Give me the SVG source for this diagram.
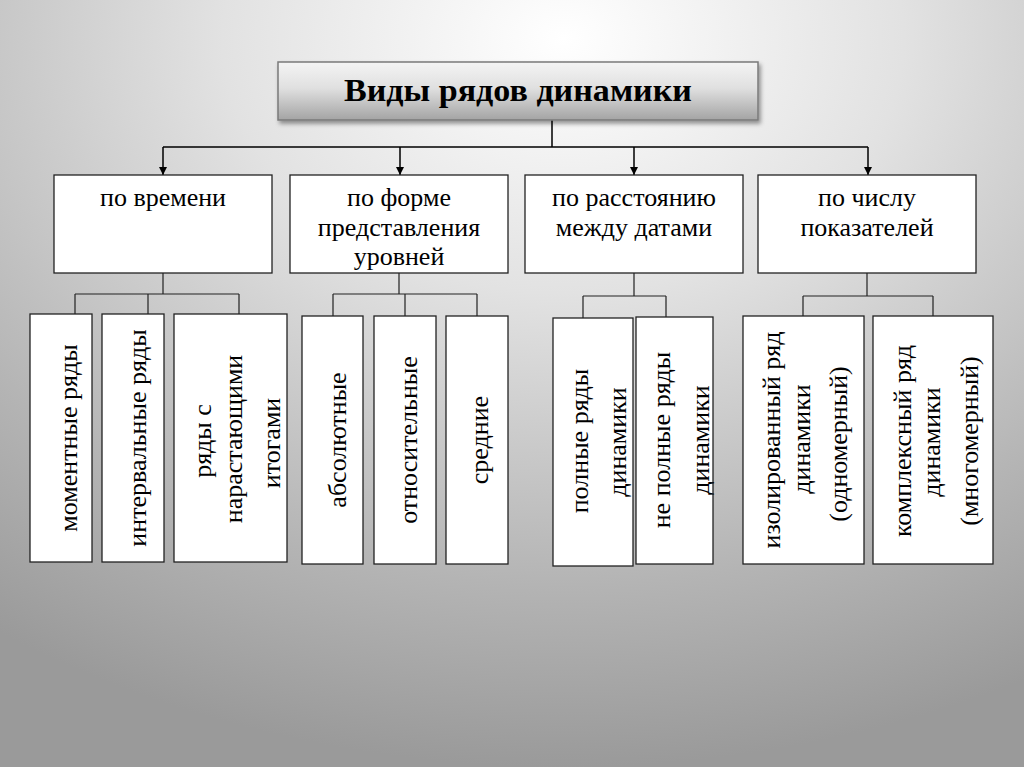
<svg xmlns="http://www.w3.org/2000/svg" width="1024" height="767" viewBox="0 0 1024 767">
<defs>
<radialGradient id="bg" cx="0.55" cy="0.05" r="0.95" fx="0.55" fy="0.05">
<stop offset="0" stop-color="#ffffff"/>
<stop offset="0.35" stop-color="#e2e2e2"/>
<stop offset="0.75" stop-color="#b4b4b4"/>
<stop offset="1" stop-color="#9a9a9a"/>
</radialGradient>
<linearGradient id="tg" x1="0" y1="0" x2="0" y2="1">
<stop offset="0" stop-color="#f4f4f4"/>
<stop offset="0.45" stop-color="#e0e0e0"/>
<stop offset="1" stop-color="#a4a4a4"/>
</linearGradient>
<filter id="sh" x="-10%" y="-20%" width="120%" height="150%">
<feDropShadow dx="2" dy="3" stdDeviation="2" flood-color="#000" flood-opacity="0.4"/>
</filter>
<marker id="ar" viewBox="0 0 10 10" refX="10" refY="5" markerWidth="8" markerHeight="8" markerUnits="userSpaceOnUse" orient="auto">
<path d="M0,0 L10,5 L0,10 z" fill="#000"/>
</marker>
<style>
.box{fill:#fff;stroke:#222;stroke-width:1.3}
.t{font-family:"Liberation Serif","Times New Roman",serif;font-size:26px;fill:#000;text-anchor:middle}
.ttl{font-family:"Liberation Serif","Times New Roman",serif;font-size:31px;font-weight:bold;fill:#000;text-anchor:middle}
.ln{stroke:#000;stroke-width:1.5;fill:none}
.ln2{stroke:#222;stroke-width:1.2;fill:none}
</style>
</defs>
<rect x="0" y="0" width="1024" height="767" fill="url(#bg)"/>

<g id="connectors">
<path class="ln" d="M552,120 V147 M163,147 H868"/>
<path class="ln" d="M163,147 V175" marker-end="url(#ar)"/>
<path class="ln" d="M400,147 V175" marker-end="url(#ar)"/>
<path class="ln" d="M634,147 V175" marker-end="url(#ar)"/>
<path class="ln" d="M868,147 V175" marker-end="url(#ar)"/>
<path class="ln2" d="M163,273 V294 M75,294 H239 M75,294 V314 M148,294 V314 M239,294 V314"/>
<path class="ln2" d="M399,273 V294 M333,294 H477 M333,294 V316 M405,294 V316 M477,294 V316"/>
<path class="ln2" d="M634,273 V296 M583,296 H666 M583,296 V318 M666,296 V317"/>
<path class="ln2" d="M867,273 V296 M803,296 H933 M803,296 V316 M933,296 V316"/>
</g>

<g id="title">
<rect x="278" y="62" width="480" height="58" fill="url(#tg)" stroke="#7a7a7a" stroke-width="1.5" filter="url(#sh)"/>
<text class="ttl" x="518" y="101" textLength="348" lengthAdjust="spacingAndGlyphs">Виды рядов динамики</text>
</g>

<g id="n-time">
<rect class="box" x="54" y="175" width="218" height="98"/>
<text class="t" x="163" y="206">по времени</text>
</g>
<g id="n-form">
<rect class="box" x="290" y="175" width="218" height="98"/>
<text class="t" x="399" y="206">по форме</text>
<text class="t" x="399" y="236">представления</text>
<text class="t" x="399" y="265">уровней</text>
</g>
<g id="n-dist">
<rect class="box" x="525" y="175" width="218" height="98"/>
<text class="t" x="634" y="206">по расстоянию</text>
<text class="t" x="634" y="236">между датами</text>
</g>
<g id="n-count">
<rect class="box" x="758" y="175" width="218" height="98"/>
<text class="t" x="867" y="206">по числу</text>
<text class="t" x="867" y="236">показателей</text>
</g>

<g id="n-moment">
<rect class="box" x="30" y="314" width="62" height="248"/>
<text class="t" transform="translate(77,438) rotate(-90)">моментные ряды</text>
</g>
<g id="n-interval">
<rect class="box" x="102" y="314" width="62" height="248"/>
<text class="t" transform="translate(146,438) rotate(-90)">интервальные ряды</text>
</g>
<g id="n-cumul">
<rect class="box" x="174" y="314" width="113" height="248"/>
<text class="t" transform="translate(211,441) rotate(-90)">ряды с</text>
<text class="t" transform="translate(242,439) rotate(-90)">нарастающими</text>
<text class="t" transform="translate(280,443) rotate(-90)">итогами</text>
</g>
<g id="n-abs">
<rect class="box" x="302" y="316" width="61" height="248"/>
<text class="t" transform="translate(346,440) rotate(-90)">абсолютные</text>
</g>
<g id="n-rel">
<rect class="box" x="374" y="316" width="62" height="248"/>
<text class="t" transform="translate(417,440) rotate(-90)">относительные</text>
</g>
<g id="n-avg">
<rect class="box" x="446" y="316" width="62" height="248"/>
<text class="t" transform="translate(488,440) rotate(-90)">средние</text>
</g>
<g id="n-full">
<rect class="box" x="553" y="318" width="80" height="248"/>
<text class="t" transform="translate(588,441) rotate(-90)">полные ряды</text>
<text class="t" transform="translate(626,442) rotate(-90)">динамики</text>
</g>
<g id="n-notfull">
<rect class="box" x="636" y="317" width="77" height="247"/>
<text class="t" transform="translate(670,440) rotate(-90)">не полные ряды</text>
<text class="t" transform="translate(709,440) rotate(-90)">динамики</text>
</g>
<g id="n-isol">
<rect class="box" x="743" y="316" width="121" height="248"/>
<text class="t" transform="translate(780,440) rotate(-90)">изолированный ряд</text>
<text class="t" transform="translate(810,439) rotate(-90)">динамики</text>
<text class="t" transform="translate(847,444) rotate(-90)">(одномерный)</text>
</g>
<g id="n-complex">
<rect class="box" x="873" y="316" width="120" height="248"/>
<text class="t" transform="translate(911,441) rotate(-90)">комплексный ряд</text>
<text class="t" transform="translate(940,442) rotate(-90)">динамики</text>
<text class="t" transform="translate(978,441) rotate(-90)">(многомерный)</text>
</g>
</svg>
